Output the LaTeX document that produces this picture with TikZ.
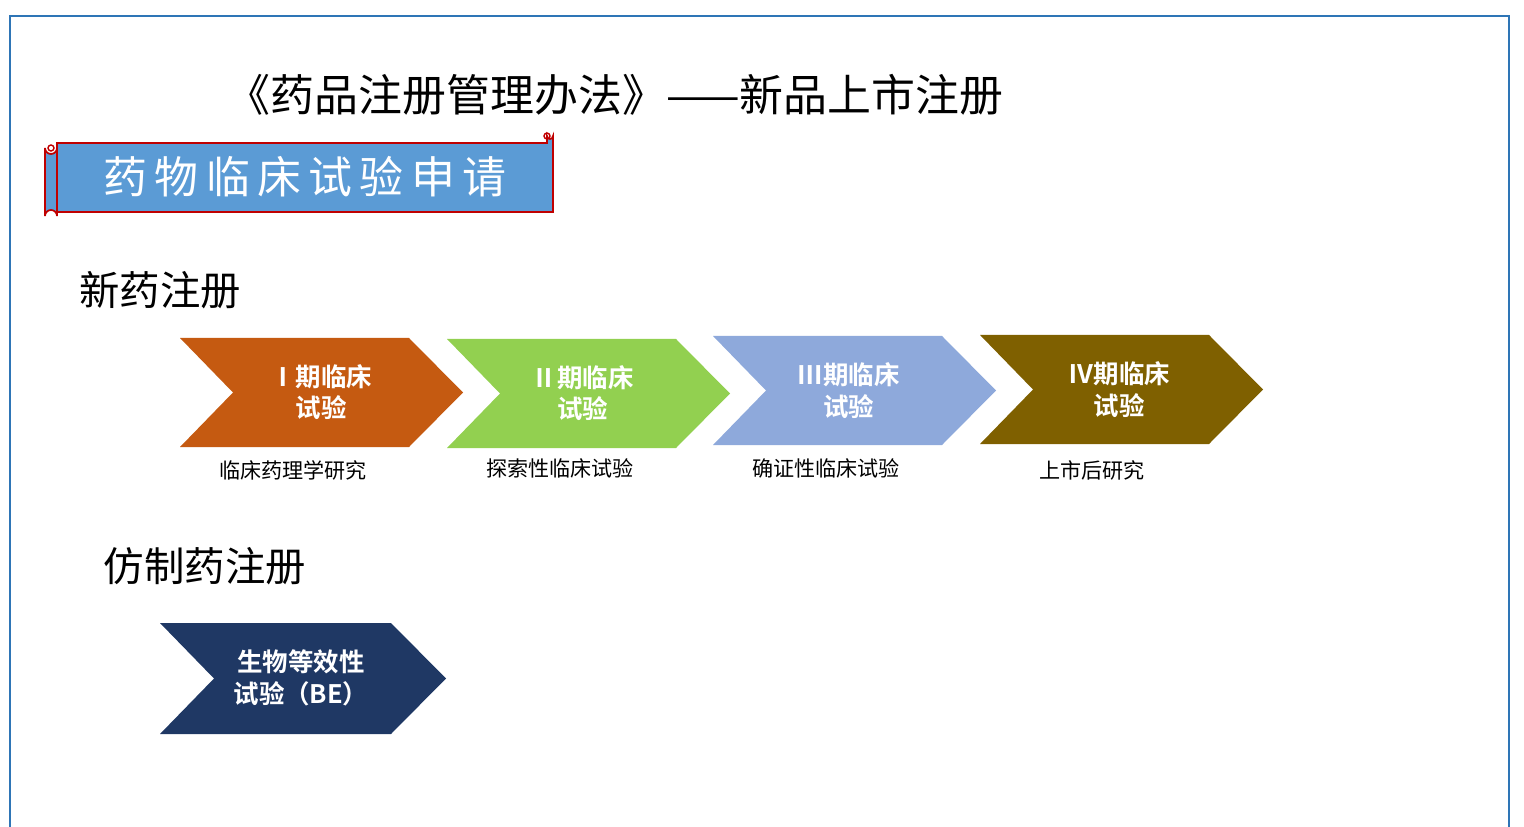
\documentclass[tikz,border=0pt]{standalone}
\usepackage{fontspec}
\setmainfont{Noto Sans CJK SC}
\newfontfamily\cjkb{Noto Sans CJK SC Bold}
\begin{document}
\begin{tikzpicture}[x=0.02cm,y=-0.02cm,
  chev/.style={fill=#1,draw=none},
  ctext/.style={text=white,font=\cjkb\fontsize{14.5}{18}\selectfont,align=center},
  sub/.style={font=\fontsize{12}{14}\selectfont},
  head/.style={font=\fontsize{23}{28}\selectfont}]
\useasboundingbox (0,0) rectangle (1524,827);
\definecolor{c1}{HTML}{C55A11}\definecolor{c2}{HTML}{92D050}
\definecolor{c3}{HTML}{8EA9DB}\definecolor{c4}{HTML}{7F6000}
\definecolor{c5}{HTML}{1F3864}\definecolor{frame}{HTML}{2E75B6}
\definecolor{ban}{HTML}{5B9BD5}\definecolor{banr}{HTML}{C00000}
\draw[frame,line width=1pt] (10,830) -- (10,16) -- (1509,16) -- (1509,830);
\node[font=\fontsize{25}{30}\selectfont] (title) at (615,95) {《药品注册管理办法》——新品上市注册};
% scroll banner
\draw[banr,fill=ban,line width=1pt] (57,143) -- (547,143) -- (547,136) arc(180:0:3) -- (553,208) -- (553,212) -- (57,212) -- cycle;
\draw[banr,fill=ban,line width=1pt] (45,148) arc(180:0:6) -- (57,216) arc(0:-180:6) -- cycle;
\draw[banr,line width=0.8pt] (51,148) circle (3);
\draw[banr,line width=0.8pt] (547,136) circle (3);
\node[text=white,font=\fontsize{25}{30}\selectfont] (ban) at (305,177) {药\,物\,临\,床\,试\,验\,申\,请};
\node[head] (xy) at (160,290) {新药注册};
\node[head] (fz) at (205,566) {仿制药注册};
\foreach \x/\y/\c/\n in {180/338/c1/a,447/339/c2/b,713/336/c3/c,980/335/c4/d}{
  \fill[\c] (\x,\y) -- ++(229,0) -- ++(54,54.5) -- ++(-54,54.5) -- ++(-229,0) -- ++(53,-54.5) -- cycle;
  \coordinate (\n) at (\x+141,\y+54);
}
\node[ctext] at (a) {Ⅰ期临床\\试验};
\node[ctext] at ([xshift=-3]b) {Ⅱ期临床\\试验};
\node[ctext] at ([xshift=-3,yshift=-0.5]c) {Ⅲ期临床\\试验};
\node[ctext] at ([xshift=-1,yshift=-0.5]d) {Ⅳ期临床\\试验};
\fill[c5] (160,623) -- ++(231,0) -- ++(55,55.5) -- ++(-55,55.5) -- ++(-231,0) -- ++(54,-55.5) -- cycle;
\node[ctext] (be) at (301,678) {生物等效性\\试验（BE）};
\node[sub] (s1) at (293,470) {临床药理学研究};
\node[sub] (s2) at (560,468) {探索性临床试验};
\node[sub] (s3) at (826,468) {确证性临床试验};
\node[sub] (s4) at (1092,470) {上市后研究};
\end{tikzpicture}
\end{document}
